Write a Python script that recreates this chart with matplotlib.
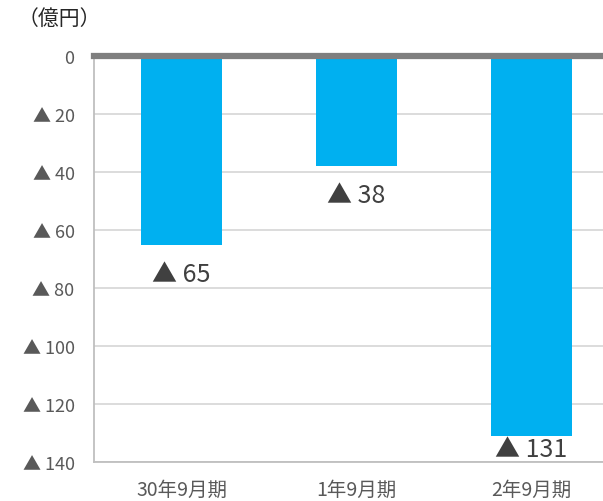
import matplotlib.pyplot as plt

plt.rcParams['font.family'] = ['Noto Sans CJK JP', 'DejaVu Sans']

# data
periods = ['30年9月期', '1年9月期', '2年9月期']
losses = [65, 38, 131]
yticks = [0, 20, 40, 60, 80, 100, 120, 140]
yticklabels = ['0'] + ['▲ %d' % v for v in yticks[1:]]

fig = plt.figure(figsize=(6.03, 5.02), dpi=100)
ax = fig.add_axes([94 / 603, 1 - 463 / 502, 525 / 603, 406 / 502])

x = range(len(periods))
ax.bar(x, losses, width=0.46, color='#00B0F0', zorder=2)
ax.set_xlim(-0.5, 2.5)
ax.set_ylim(140, 0)

ax.axhline(0, color='#7F7F7F', lw=4.5, zorder=3, clip_on=False)

ax.set_yticks(yticks)
ax.set_yticklabels(yticklabels, fontsize=13, color='#595959')
ax.set_xticks(list(x))
ax.set_xticklabels(periods, fontsize=14, color='#595959')
ax.tick_params(axis='y', length=0, pad=14)
ax.tick_params(axis='x', length=0, pad=12)
ax.grid(axis='y', color='#D9D9D9', lw=1.3, zorder=0)

for s in ['top', 'right']:
    ax.spines[s].set_visible(False)
for s in ['left', 'bottom']:
    ax.spines[s].set_color('#BFBFBF')
    ax.spines[s].set_linewidth(1.3)

for i, v in enumerate(losses):
    ax.text(i, min(v + 10, 135.5), '▲ %d' % v, ha='center', va='center',
            fontsize=18, color='#404040', zorder=4)

fig.text(18 / 603, 1 - 19 / 502, '（億円）', fontsize=15, color='#262626',
         ha='left', va='center')

fig.savefig('out.png', dpi=100)
